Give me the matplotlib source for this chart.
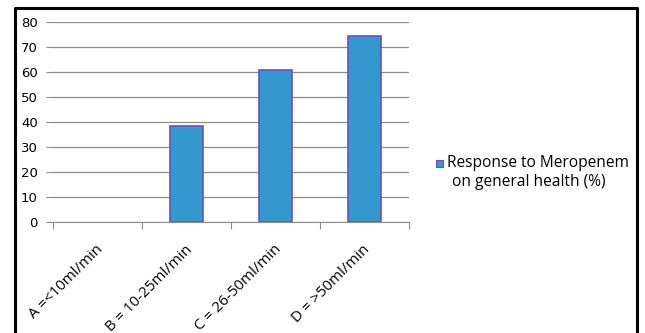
import matplotlib
matplotlib.use("Agg")
import matplotlib.pyplot as plt
from matplotlib.lines import Line2D
from matplotlib.patches import Rectangle
import numpy as np

categories = ["A =<10ml/min", "B = 10-25ml/min", "C = 26-50ml/min", "D = >50ml/min"]
values = [0, 38.5, 61, 74.5]
series_name = ["Response to Meropenem", "on general health (%)"]
yticks = [0, 10, 20, 30, 40, 50, 60, 70, 80]

W, H = 645, 333
fig = plt.figure(figsize=(W / 100, H / 100), dpi=100)
fig.patch.set_facecolor("white")

ax = fig.add_axes([53 / W, 1 - 222 / H, (409 - 53) / W, (222 - 22) / H])
x = np.arange(len(categories))
edge_w = [1.2 if v > 0 else 0 for v in values]
ax.bar(x, values, width=0.38, color="#3399CC", edgecolor="#6A4FC8", linewidth=edge_w, zorder=3)

ax.set_xlim(-0.5, len(categories) - 0.5)
ax.set_ylim(0, 80)
ax.set_yticks(yticks)
ax.set_yticklabels([str(v) for v in yticks], fontsize=9.5, family="DejaVu Sans")
ax.yaxis.grid(True, color="#8C8C8C", linewidth=0.9, zorder=0)
ax.set_axisbelow(True)

# category boundary ticks on the x axis
ax.set_xticks(np.arange(-0.5, len(categories), 1.0))
ax.set_xticklabels([])
ax.tick_params(axis="x", length=5, color="#8C8C8C", direction="out")
ax.tick_params(axis="y", length=5, color="#8C8C8C", direction="out", pad=6)
for i, lab in enumerate(categories):
    ax.text(i - 0.02, -8.0, lab, rotation=45, rotation_mode="anchor",
            ha="right", va="top", fontsize=10.8, family="Open Sans",
            transform=ax.transData, clip_on=False)

for s in ["top", "right", "left"]:
    ax.spines[s].set_visible(False)
ax.spines["bottom"].set_color("#8C8C8C")

# legend
fig.add_artist(Rectangle((436 / W, 1 - 167 / H), 7 / W, 7 / H,
                         transform=fig.transFigure, facecolor="#3399CC",
                         edgecolor="#6A4FC8", linewidth=0.8))
fig.text(447 / W, 1 - 163 / H, series_name[0], fontsize=11.2, family="Open Sans",
         ha="left", va="center")
fig.text(452 / W, 1 - 182 / H, series_name[1], fontsize=11.2, family="Open Sans",
         ha="left", va="center")

# outer frame
fig.add_artist(Line2D([15 / W, 15 / W, 637 / W, 637 / W], [0, 1 - 8 / H, 1 - 8 / H, 0],
                      transform=fig.transFigure, color="black", linewidth=2.2))

fig.savefig("out.png", dpi=100)
